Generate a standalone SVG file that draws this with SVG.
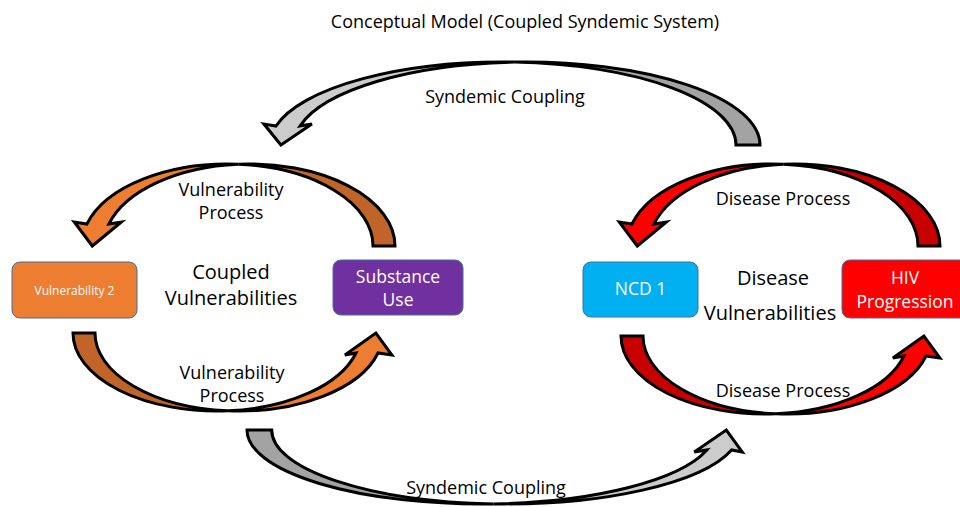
<svg xmlns="http://www.w3.org/2000/svg" xmlns:xlink="http://www.w3.org/1999/xlink" width="960" height="507" viewBox="0 0 960 507">
  <style>
    text { font-family: "Open Sans", "Noto Sans", "Liberation Sans", sans-serif; text-anchor: middle; }
    .title { font-size: 18px; fill: #000; }
    .lbl { font-size: 18px; fill: #000; }
    .big { font-size: 20px; fill: #000; }
    .node { font-size: 17.5px; fill: #fff; }
    .small { font-size: 12px; fill: #fff; }
    .box { stroke: #41719C; stroke-width: 1; }
    .arrow path, .arrow use { stroke: #000; stroke-width: 3; stroke-linejoin: miter; }
    .gray-lt { fill: #CCCCCC; } .gray-dk { fill: #A3A3A3; }
    .org-lt { fill: #ED7D31; } .org-dk { fill: #C0642A; }
    .red-lt { fill: #FF0000; } .red-dk { fill: #C80000; }
  </style>
  <defs>
    <!-- curved arrows, local frame: tail on the left, arc bulging downward, head on the right -->
    <path id="capDark" d="M -145.7,0 A 145.7 82 0 0 0 11,81.8 A 145.7 82 0 0 1 -123.7,0 Z"/>
    <path id="capLight" d="M 11,81.8 A 145.7 82 0 0 0 162.4,22 L 175,24 L 157,0 L 128,24 L 140.4,22 A 145.7 82 0 0 1 11,81.8 Z"/>
    <path id="cupDark" d="M -143.9,0 A 143.9 78 0 0 0 11,77.8 A 143.9 78 0 0 1 -121.9,0 Z"/>
    <path id="cupLight" d="M 11,77.8 A 143.9 78 0 0 0 161.1,20 L 175,22 L 159,0 L 128,22 L 139.1,20 A 143.9 78 0 0 1 11,77.8 Z"/>
  </defs>

  <text class="title" x="525" y="28">Conceptual Model (Coupled Syndemic System)</text>

  <g id="connectors" class="arrow">
    <!-- syndemic coupling, top (right to left) -->
    <g id="coupling-top" transform="translate(526.9,145) rotate(180)">
      <path class="gray-dk" d="M -233.1,0 A 233.1 83 0 0 0 12,82.9 A 233.1 83 0 0 1 -209.1,0 Z"/>
      <path class="gray-lt" d="M 12,82.9 A 233.1 83 0 0 0 250.9,19 L 263,21 L 246,0 L 215,21 L 226.9,19 A 233.1 83 0 0 1 12,82.9 Z"/>
    </g>
    <!-- syndemic coupling, bottom (left to right) -->
    <g id="coupling-bottom" transform="translate(481.3,430)">
      <path class="gray-dk" d="M -234.3,0 A 234.3 74 0 0 0 12.35,73.9 A 234.3 74 0 0 1 -209.6,0 Z"/>
      <path class="gray-lt" d="M 12.35,73.9 A 234.3 74 0 0 0 250.3,20 L 261,22 L 245,0 L 213,22 L 225.6,20 A 234.3 74 0 0 1 12.35,73.9 Z"/>
    </g>
    <!-- vulnerability process loop -->
    <g id="vuln-top" transform="translate(249.3,246) rotate(180)">
      <use xlink:href="#capDark" class="org-dk"/>
      <use xlink:href="#capLight" class="org-lt"/>
    </g>
    <g id="vuln-bottom" transform="translate(216.9,333)">
      <use xlink:href="#cupDark" class="org-dk"/>
      <use xlink:href="#cupLight" class="org-lt"/>
    </g>
    <!-- disease process loop -->
    <g id="disease-top" transform="translate(794.3,246) rotate(180)">
      <use xlink:href="#capDark" class="red-dk"/>
      <use xlink:href="#capLight" class="red-lt"/>
    </g>
    <g id="disease-bottom" transform="translate(764.9,336)">
      <use xlink:href="#cupDark" class="red-dk"/>
      <use xlink:href="#cupLight" class="red-lt"/>
    </g>
  </g>

  <g id="connector-labels">
    <text class="lbl" x="505" y="103">Syndemic Coupling</text>
    <text class="lbl" x="486" y="494">Syndemic Coupling</text>
    <text class="lbl" x="231" y="196">Vulnerability</text>
    <text class="lbl" x="231" y="219">Process</text>
    <text class="lbl" x="232" y="379">Vulnerability</text>
    <text class="lbl" x="232" y="402">Process</text>
    <text class="lbl" x="783" y="205">Disease Process</text>
    <text class="lbl" x="783" y="397">Disease Process</text>
  </g>

  <g id="group-labels">
    <text class="big" x="231" y="279">Coupled</text>
    <text class="big" x="231" y="305">Vulnerabilities</text>
    <text class="big" x="773" y="285">Disease</text>
    <text class="big" x="770" y="320">Vulnerabilities</text>
  </g>

  <g id="vulnerability-2">
    <rect class="box" x="12" y="262" width="125" height="56" rx="8" fill="#ED7D31"/>
    <text class="small" x="74.5" y="295">Vulnerability 2</text>
  </g>
  <g id="substance-use">
    <rect class="box" x="333" y="260" width="130" height="55" rx="8" fill="#7030A0"/>
    <text class="node" x="398" y="283">Substance</text>
    <text class="node" x="398" y="306">Use</text>
  </g>
  <g id="ncd-1">
    <rect class="box" x="583" y="262" width="115" height="55" rx="8" fill="#00B0F0"/>
    <text class="node" x="640.5" y="295">NCD 1</text>
  </g>
  <g id="hiv-progression">
    <rect class="box" x="842" y="260" width="126" height="58" rx="8" fill="#FF0000"/>
    <text class="node" x="905" y="284">HIV</text>
    <text class="node" x="905" y="308">Progression</text>
  </g>
</svg>
